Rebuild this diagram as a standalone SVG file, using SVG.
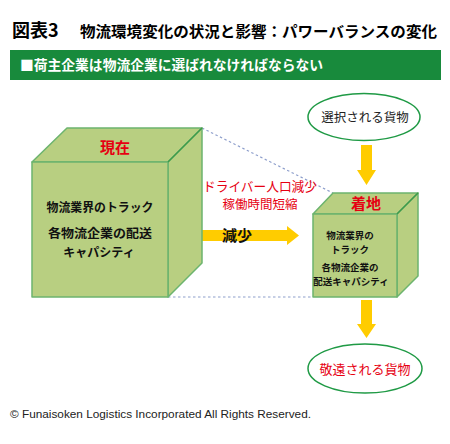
<svg xmlns="http://www.w3.org/2000/svg" width="450" height="444" viewBox="0 0 450 444">
<style>
.jp{font-family:"Noto Sans CJK JP","Noto Sans",sans-serif}
.b{font-weight:bold}
.face{fill:#b8cf81;stroke:#6cb46e;stroke-width:1.5;stroke-linejoin:round}
.edge{stroke:#3f9a4a;stroke-width:1.2}
.dash{stroke:#8e9fcc;stroke-width:1.2;stroke-dasharray:2.5,2.5;fill:none}
.yel{fill:#ffcc00}
.ell{fill:#fff;stroke:#1f9a45;stroke-width:1.5}
.red{fill:#e60012}
</style>
<rect width="450" height="444" fill="#fff"/>
<g id="title">
<text class="jp b" x="12" y="37" font-size="18">図表3</text>
<text class="jp b" x="80" y="37" font-size="15" textLength="357" lengthAdjust="spacingAndGlyphs">物流環境変化の状況と影響：パワーバランスの変化</text>
</g>
<g id="banner">
<rect x="10" y="50" width="431" height="30" fill="#188a3c"/>
<text class="jp b" x="20" y="69.5" font-size="14" fill="#fff" textLength="303" lengthAdjust="spacingAndGlyphs">■荷主企業は物流企業に選ばれなければならない</text>
</g>
<g id="connectors">
<line class="dash" x1="202" y1="128" x2="333" y2="193"/>
<line class="dash" x1="168" y1="297" x2="313" y2="297"/>
<polygon class="yel" points="175,230 287,230 287,226 299,235.5 287,245 287,241 175,241"/>
<polygon class="yel" points="361,145 372,145 372,170 376,170 366.5,185 357,170 361,170"/>
<polygon class="yel" points="361,300 372,300 372,324 376,324 366.5,338 357,324 361,324"/>
</g>
<g id="current">
<polygon class="face" points="32,162 67,128 202,128 168,162"/>
<polygon class="face" points="168,162 202,128 202,263 168,297"/>
<rect class="face" x="32" y="162" width="136" height="135"/>
<line class="edge" x1="168" y1="162" x2="202" y2="128"/>
<text class="jp b red" x="115" y="153" font-size="15" text-anchor="middle">現在</text>
<g class="jp b" font-size="12" text-anchor="middle" fill="#111">
<text x="100" y="212" textLength="107" lengthAdjust="spacingAndGlyphs">物流業界のトラック</text>
<text x="100" y="238" textLength="104" lengthAdjust="spacingAndGlyphs">各物流企業の配送</text>
<text x="99" y="257">キャパシティ</text>
</g>
</g>
<g id="reduce-label">
<text class="jp b" x="222" y="240.5" font-size="15" fill="#111">減少</text>
</g>
<g id="factors">
<text class="jp red" x="260" y="191" font-size="13" text-anchor="middle" textLength="114" lengthAdjust="spacingAndGlyphs">ドライバー人口減少</text>
<text class="jp red" x="260" y="209" font-size="12.5" text-anchor="middle">稼働時間短縮</text>
</g>
<g id="landing">
<polygon class="face" points="313,214 333,193 418,193 397,214"/>
<polygon class="face" points="397,214 418,193 418,276 397,297"/>
<rect class="face" x="313" y="214" width="84" height="83"/>
<line class="edge" x1="397" y1="214" x2="418" y2="193"/>
<text class="jp b red" x="366" y="209" font-size="15" text-anchor="middle">着地</text>
<g class="jp b" font-size="9.5" text-anchor="middle" fill="#111">
<text x="350" y="239">物流業界の</text>
<text x="350" y="253">トラック</text>
<text x="350" y="271">各物流企業の</text>
<text x="351" y="285">配送キャパシティ</text>
</g>
</g>
<g id="selected">
<ellipse class="ell" cx="364" cy="117" rx="56" ry="23.5"/>
<text class="jp" x="365" y="122" font-size="12.5" text-anchor="middle" fill="#222">選択される貨物</text>
</g>
<g id="avoided">
<ellipse class="ell" cx="365" cy="368.5" rx="57" ry="24.5"/>
<text class="jp red" x="365" y="374" font-size="13" text-anchor="middle">敬遠される貨物</text>
</g>
<g id="copyright">
<text x="10" y="418" font-family="Liberation Sans,Arial,sans-serif" font-size="11.5" fill="#222" textLength="301" lengthAdjust="spacingAndGlyphs">© Funaisoken Logistics Incorporated All Rights Reserved.</text>
</g>
</svg>
